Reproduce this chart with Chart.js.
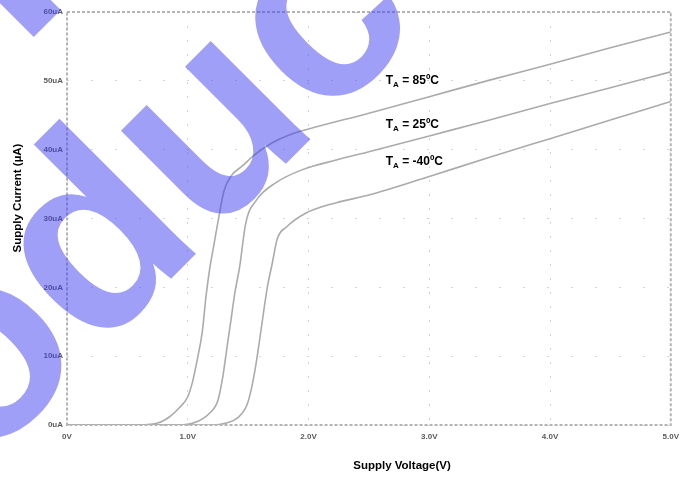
<!DOCTYPE html>
<html>
<head>
<meta charset="utf-8">
<title>Supply Current vs Supply Voltage</title>
<script src="https://cdn.jsdelivr.net/npm/chart.js@4/dist/chart.umd.min.js"></script>
<style>
body{ margin:0; background:#fff; }
#wrap{ width:686px; height:477px; position:relative; }
</style>
</head>
<body>
<div id="wrap"><canvas id="supplyChart"></canvas></div>
<script>
/* ========== Data ========== */
const volts85 = [0, 0.55, 0.75, 0.85, 0.93, 1.0, 1.04, 1.08, 1.12, 1.15, 1.18, 1.22, 1.25, 1.3, 1.36, 1.45, 1.55, 1.7, 1.85, 2.0, 2.5, 3.0, 3.5, 4.0, 4.5, 5.0]
const amps85  = [0, 0, 0.3, 1.2, 2.5, 4.1, 6.3, 9.6, 13.5, 18.5, 22.5, 26.5, 29.5, 34, 36.2, 37.6, 39.2, 41, 42.2, 43.0, 45.3, 47.7, 50.1, 52.4, 54.8, 57.1]

const volts25 = [0, 0.95, 1.08, 1.18, 1.25, 1.29, 1.33, 1.36, 1.39, 1.43, 1.48, 1.57, 1.73, 1.95, 2.23, 2.5, 3.0, 3.5, 4.0, 4.5, 5.0]
const amps25  = [0, 0, 0.5, 1.7, 3.6, 7, 11.9, 15.5, 19.2, 23, 29.3, 32.7, 35.2, 37.1, 38.5, 39.7, 42.0, 44.3, 46.7, 49.0, 51.3]

const voltsM40 = [0, 1.2, 1.32, 1.41, 1.49, 1.53, 1.57, 1.61, 1.66, 1.70, 1.74, 1.82, 1.98, 2.23, 2.5, 3.0, 3.5, 4.0, 4.5, 5.0]
const ampsM40  = [0, 0, 0.3, 1.0, 2.9, 5.5, 9.4, 14.2, 20.1, 23.5, 27, 28.8, 30.8, 32.3, 33.4, 36.1, 38.9, 41.6, 44.3, 47.0]

const tempNames = ['85ºC', '25ºC', '-40ºC']
const xTickLabels = ['0V', '1.0V', '2.0V', '3.0V', '4.0V', '5.0V']
const yTickLabels = ['0uA', '10uA', '20uA', '30uA', '40uA', '50uA', '60uA']

// where the temperature labels sit, in axis units (volts, uA)
const labelAt = [[2.64, 49.6], [2.64, 43.2], [2.64, 37.8]]

const FONT = '"Liberation Sans", Arial, sans-serif'

function toPoints(xs, ys){
  return xs.map((x, i) => ({x: x, y: ys[i]}))
}

const curves = [toPoints(volts85, amps85), toPoints(volts25, amps25), toPoints(voltsM40, ampsM40)]

/* ========== Extra drawing: frame, titles, labels, watermark ========== */
const decorPlugin = {
  id: 'decor',
  afterDatasetsDraw(chart){
    const {ctx, chartArea: a} = chart
    ctx.save()
    ctx.strokeStyle = '#b4b4b4'
    ctx.lineWidth = 2
    ctx.setLineDash([3, 2])
    ctx.strokeRect(a.left, a.top, a.right - a.left, a.bottom - a.top)
    ctx.restore()
  },
  afterDraw(chart){
    const {ctx, scales} = chart
    ctx.save()
    ctx.fillStyle = '#000'

    // axis titles
    ctx.font = 'bold 11.5px ' + FONT
    ctx.textAlign = 'center'
    ctx.textBaseline = 'middle'
    ctx.fillText('Supply Voltage(V)', 402, 466)
    ctx.save()
    ctx.translate(18, 198)
    ctx.rotate(-Math.PI / 2)
    ctx.fillText('Supply Current (µA)', 0, 0)
    ctx.restore()

    // T_A labels
    ctx.textAlign = 'left'
    ctx.textBaseline = 'alphabetic'
    tempNames.forEach((name, i) => {
      let x = scales.x.getPixelForValue(labelAt[i][0])
      let y = scales.y.getPixelForValue(labelAt[i][1])
      ctx.font = 'bold 12px ' + FONT
      ctx.fillText('T', x, y)
      x += ctx.measureText('T').width
      ctx.font = 'bold 8px ' + FONT
      ctx.fillText('A', x, y + 3)
      x += ctx.measureText('A').width
      ctx.font = 'bold 12px ' + FONT
      ctx.fillText(' = ' + name, x, y)
    })

    // big translucent watermark
    ctx.font = 'bold 265px ' + FONT
    ctx.fillStyle = 'rgba(64,64,240,0.5)'
    ctx.rotate(-Math.PI / 4)
    ctx.fillText('Produc', -627, 318)
    ctx.fillText('Preview', -20, 50)
    ctx.restore()
  }
}

/* ========== Chart ========== */
new Chart(document.getElementById('supplyChart'), {
  type: 'scatter',
  data: {
    datasets: curves.map((pts, i) => ({
      label: tempNames[i],
      data: pts,
      showLine: true,
      borderColor: '#ababab',
      borderWidth: 1.6,
      pointRadius: 0,
      cubicInterpolationMode: 'monotone'
    }))
  },
  options: {
    responsive: true,
    maintainAspectRatio: false,
    animation: false,
    layout: { padding: { left: 0, top: 12, right: 13, bottom: 0 } },
    plugins: { legend: { display: false }, tooltip: { enabled: false } },
    scales: {
      x: {
        type: 'linear',
        min: 0, max: 5,
        afterFit: s => { s.height = 52 },
        ticks: {
          stepSize: 1,
          padding: 7,
          color: '#5a5a5a',
          font: { size: 8, family: FONT, weight: 'bold' },
          callback: v => xTickLabels[Math.round(v)]
        },
        grid: { color: '#d4d4d4', lineWidth: 1, drawTicks: false },
        border: { display: false, dash: [2, 12] }
      },
      y: {
        type: 'linear',
        min: 0, max: 60,
        afterFit: s => { s.width = 67 },
        ticks: {
          stepSize: 10,
          padding: 4,
          color: '#5a5a5a',
          font: { size: 8, family: FONT, weight: 'bold' },
          callback: v => yTickLabels[Math.round(v / 10)]
        },
        grid: { color: '#d4d4d4', lineWidth: 1, drawTicks: false },
        border: { display: false, dash: [2, 22] }
      }
    }
  },
  plugins: [decorPlugin]
})
</script>
</body>
</html>
